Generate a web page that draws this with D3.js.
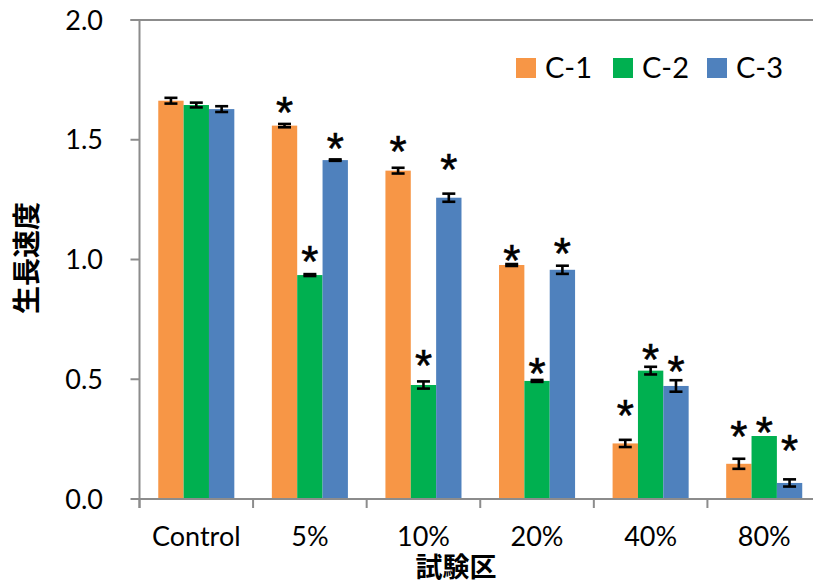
<!DOCTYPE html>
<html><head><meta charset="utf-8">
<script src="https://cdn.jsdelivr.net/npm/d3@7"></script>
<style>
html,body{margin:0;padding:0;background:#fff;overflow:hidden;}
</style></head>
<body>
<svg id="chart" width="813" height="581"></svg>
<script>
const categories = ["Control", "5%", "10%", "20%", "40%", "80%"];
const seriesNames = ["C-1", "C-2", "C-3"];
const seriesColors = ["#F79646", "#00B050", "#4F81BD"];
const c1Values = [1.663, 1.559, 1.371, 0.977, 0.232, 0.147];
const c2Values = [1.645, 0.935, 0.476, 0.493, 0.536, 0.263];
const c3Values = [1.628, 1.415, 1.258, 0.957, 0.472, 0.067];
const c1Errors = [0.012, 0.007, 0.012, 0.004, 0.015, 0.021];
const c2Errors = [0.010, 0.004, 0.015, 0.004, 0.016, 0.000];
const c3Errors = [0.012, 0.003, 0.017, 0.017, 0.024, 0.015];
// significance marker level (in data units); null = no marker
const c1Stars = [null, 1.649, 1.488, 1.033, 0.384, 0.296];
const c2Stars = [null, 1.028, 0.594, 0.559, 0.619, 0.313];
const c3Stars = [null, 1.499, 1.413, 1.061, 0.568, 0.239];
const yTicks = [0, 0.5, 1.0, 1.5, 2.0];
const yTitle = "生長速度";
const xTitle = "試験区";

const values = [c1Values, c2Values, c3Values];
const errors = [c1Errors, c2Errors, c3Errors];
const stars = [c1Stars, c2Stars, c3Stars];

const svg = d3.select("#chart");
const mLeft = 139.5, mRight = 821, mTop = 20, mBottom = 499;
const latin = "Lato, 'Open Sans', sans-serif";
const cjk = "'Noto Sans CJK JP', sans-serif";

const x = d3.scaleBand().domain(categories).range([mLeft, mRight]).paddingInner(0).paddingOuter(0);
const xs = d3.scaleBand().domain(seriesNames).range([0, x.bandwidth()]).paddingInner(0).paddingOuter(0.74);
const y = d3.scaleLinear().domain([0, 2]).range([mBottom, mTop]);

const axisColor = "#8c8c8c";

// top border line
svg.append("line").attr("x1", mLeft - 9).attr("x2", 813).attr("y1", y(2)).attr("y2", y(2))
  .attr("stroke", axisColor).attr("stroke-width", 2);

// bars
const rows = [];
categories.forEach((c, i) => seriesNames.forEach((s, j) => rows.push({c, s, j, v: values[j][i], e: errors[j][i], star: stars[j][i]})));

svg.append("g").selectAll("rect").data(rows).join("rect")
  .attr("x", d => x(d.c) + xs(d.s))
  .attr("width", xs.bandwidth())
  .attr("y", d => y(d.v))
  .attr("height", d => y(0) - y(d.v))
  .attr("fill", d => seriesColors[d.j]);

// error bars
const eb = svg.append("g").attr("stroke", "#000").attr("stroke-width", 2.6);
rows.filter(d => d.e > 0).forEach(d => {
  const cx = x(d.c) + xs(d.s) + xs.bandwidth() / 2;
  const y1 = y(d.v + d.e), y2 = y(d.v - d.e);
  eb.append("line").attr("x1", cx).attr("x2", cx).attr("y1", y1).attr("y2", y2);
  eb.append("line").attr("x1", cx - 6.5).attr("x2", cx + 6.5).attr("y1", y1).attr("y2", y1);
  eb.append("line").attr("x1", cx - 6.5).attr("x2", cx + 6.5).attr("y1", y2).attr("y2", y2);
});

// stars
svg.append("g").selectAll("text").data(rows.filter(d => d.star != null)).join("text")
  .attr("x", d => x(d.c) + xs(d.s) + xs.bandwidth() / 2)
  .attr("y", d => y(d.star) + 24)
  .attr("text-anchor", "middle")
  .attr("font-family", "'Liberation Sans', Arial, sans-serif")
  .attr("font-size", 44)
  .attr("fill", "#000")
  .attr("stroke", "#000")
  .attr("stroke-width", 0.6)
  .text("*");

// x axis
const xAxis = svg.append("g").attr("transform", `translate(0,${mBottom})`);
xAxis.append("line").attr("x1", mLeft).attr("x2", 813).attr("y1", 0).attr("y2", 0)
  .attr("stroke", axisColor).attr("stroke-width", 2);
categories.forEach(c => {
  xAxis.append("line").attr("x1", x(c)).attr("x2", x(c)).attr("y1", 0).attr("y2", 9)
    .attr("stroke", axisColor).attr("stroke-width", 2);
});
xAxis.selectAll("text").data(categories).join("text")
  .attr("x", d => x(d) + x.bandwidth() / 2)
  .attr("y", 47)
  .attr("text-anchor", "middle")
  .attr("font-family", latin)
  .attr("font-size", 27)
  .attr("fill", "#000")
  .text(d => d);

// y axis
const yAxis = svg.append("g");
yAxis.append("line").attr("x1", mLeft).attr("x2", mLeft).attr("y1", y(2)).attr("y2", mBottom + 9)
  .attr("stroke", axisColor).attr("stroke-width", 2);
yTicks.forEach(t => {
  yAxis.append("line").attr("x1", mLeft - 9).attr("x2", mLeft).attr("y1", y(t)).attr("y2", y(t))
    .attr("stroke", axisColor).attr("stroke-width", 2);
});
yAxis.selectAll("text").data(yTicks).join("text")
  .attr("x", 103)
  .attr("y", d => y(d))
  .attr("dy", "0.36em")
  .attr("text-anchor", "end")
  .attr("font-family", latin)
  .attr("font-size", 27)
  .attr("fill", "#000")
  .text(d => d.toFixed(1));

// axis titles
svg.append("text").attr("transform", "translate(27,258) rotate(-90)")
  .attr("text-anchor", "middle").attr("dy", "0.36em")
  .attr("font-family", cjk).attr("font-weight", "bold").attr("font-size", 28)
  .attr("fill", "#000").text(yTitle);
svg.append("text").attr("x", 456).attr("y", 577)
  .attr("text-anchor", "middle")
  .attr("font-family", cjk).attr("font-weight", "bold").attr("font-size", 27)
  .attr("fill", "#000").text(xTitle);

// legend
const lg = svg.append("g");
const legendX = [516, 613, 707];
seriesNames.forEach((s, j) => {
  lg.append("rect").attr("x", legendX[j]).attr("y", 58).attr("width", 20).attr("height", 20).attr("fill", seriesColors[j]);
  lg.append("text").attr("x", legendX[j] + 29).attr("y", 68).attr("dy", "0.36em")
    .attr("font-family", latin).attr("font-size", 29).attr("fill", "#000").text(s);
});
</script>
</body></html>
